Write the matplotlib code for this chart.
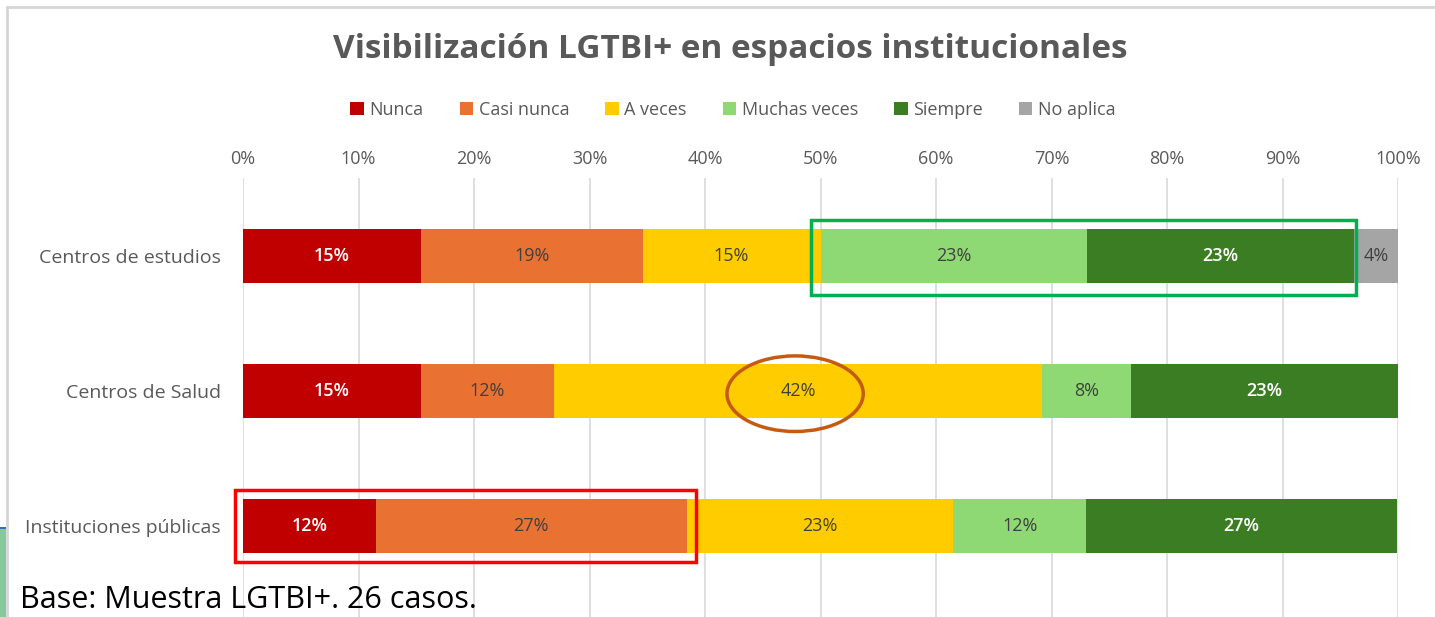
import matplotlib
matplotlib.use("Agg")
import matplotlib.pyplot as plt
from matplotlib.patches import Rectangle, Ellipse
import numpy as np

plt.rcParams['font.family'] = ['Open Sans', 'DejaVu Sans']

categories = ["Centros de estudios", "Centros de Salud", "Instituciones públicas"]
series_names = ["Nunca", "Casi nunca", "A veces", "Muchas veces", "Siempre", "No aplica"]
nunca = [15.4, 15.4, 11.5]
casi_nunca = [19.2, 11.5, 26.9]
a_veces = [15.4, 42.3, 23.1]
muchas_veces = [23.1, 7.7, 11.5]
siempre = [23.1, 23.1, 26.9]
no_aplica = [3.8, 0.0, 0.0]
xticks = [0, 10, 20, 30, 40, 50, 60, 70, 80, 90, 100]
xtick_labels = [f"{t}%" for t in xticks]
title = "Visibilización LGTBI+ en espacios institucionales"
footnote = "Base: Muestra LGTBI+. 26 casos."

series = [nunca, casi_nunca, a_veces, muchas_veces, siempre, no_aplica]
colors = ["#C00000", "#E97132", "#FFCC00", "#8ED973", "#3B7D23", "#A5A5A5"]
label_colors = ["white", "#404040", "#404040", "#404040", "white", "#404040"]
label_weight = ["semibold", "normal", "normal", "normal", "semibold", "normal"]
grey = "#595959"

W, H = 1435, 617
fig = plt.figure(figsize=(W / 100, H / 100), dpi=100)
fig.patch.set_facecolor("white")

def fx(px):
    return px / W

def fy(py):
    return 1 - py / H

# slide frame
fig.patches.append(Rectangle((fx(7), fy(620)), fx(1445) - fx(7), fy(7) - fy(620),
                             transform=fig.transFigure, fill=False,
                             edgecolor="#D6D6D6", lw=2, zorder=0))
fig.patches.append(Rectangle((0, 0), fx(6), fy(527), transform=fig.transFigure,
                             facecolor="#86C79E", edgecolor="none", zorder=0))
fig.patches.append(Rectangle((0, fy(529)), fx(6), fy(527) - fy(529), transform=fig.transFigure,
                             facecolor="#3C6FB0", edgecolor="none", zorder=0))

ax_top = 178
ax = fig.add_axes([fx(243), fy(617), fx(1398) - fx(243), fy(ax_top) - fy(617)])
y = np.arange(len(categories))
ax.set_xlim(0, 100)
ax.set_ylim(2 + (617 - 526) / 135, -(256 - ax_top) / 135)

left = np.zeros(len(categories))
for name, vals, c, lc, lw_ in zip(series_names, series, colors, label_colors, label_weight):
    vals = np.array(vals)
    ax.barh(y, vals, left=left, height=0.4, color=c, label=name, zorder=3)
    for yi, (l, v) in enumerate(zip(left, vals)):
        if v > 0:
            ax.text(l + v / 2, yi, f"{v:.0f}%", ha="center", va="center",
                    color=lc, fontsize=13, fontweight=lw_, zorder=4)
    left += vals

ax.set_xticks(xticks)
ax.set_xticklabels(xtick_labels)
ax.xaxis.tick_top()
ax.tick_params(axis="x", length=0, pad=7, labelsize=13, labelcolor=grey)
ax.set_yticks(y)
ax.set_yticklabels(categories)
ax.tick_params(axis="y", length=0, pad=16, labelsize=14, labelcolor=grey)
ax.grid(axis="x", color="#D9D9D9", lw=1.2, zorder=0)
for s in ax.spines.values():
    s.set_visible(False)
ax.set_facecolor("none")

# annotations
ax.add_patch(Rectangle((49.2, -0.27), 96.4 - 49.2, 0.56, fill=False, edgecolor="#00B050",
                       lw=2.5, zorder=5, clip_on=False))
ax.add_patch(Ellipse((47.8, 1.02), 11.8, 0.56, fill=False, edgecolor="#C55A11",
                     lw=2.5, zorder=5, clip_on=False))
ax.add_patch(Rectangle((-0.7, 1.73), 39.2 + 0.7, 0.54, fill=False, edgecolor="#FF0000",
                       lw=2.5, zorder=5, clip_on=False))

fig.text(fx(730), fy(50), title, ha="center", va="center", fontsize=24,
         fontweight="bold", color=grey)

handles, labels = ax.get_legend_handles_labels()
fig.legend(handles, labels, loc="center", bbox_to_anchor=(fx(733), fy(110)), ncol=6,
           frameon=False, fontsize=13, handlelength=0.75, handleheight=0.75,
           handletextpad=0.3, columnspacing=2.0, labelcolor=grey)

fig.text(fx(20), fy(600), footnote, ha="left", va="center", fontsize=22, color="black")

fig.savefig("out.png", dpi=100)
